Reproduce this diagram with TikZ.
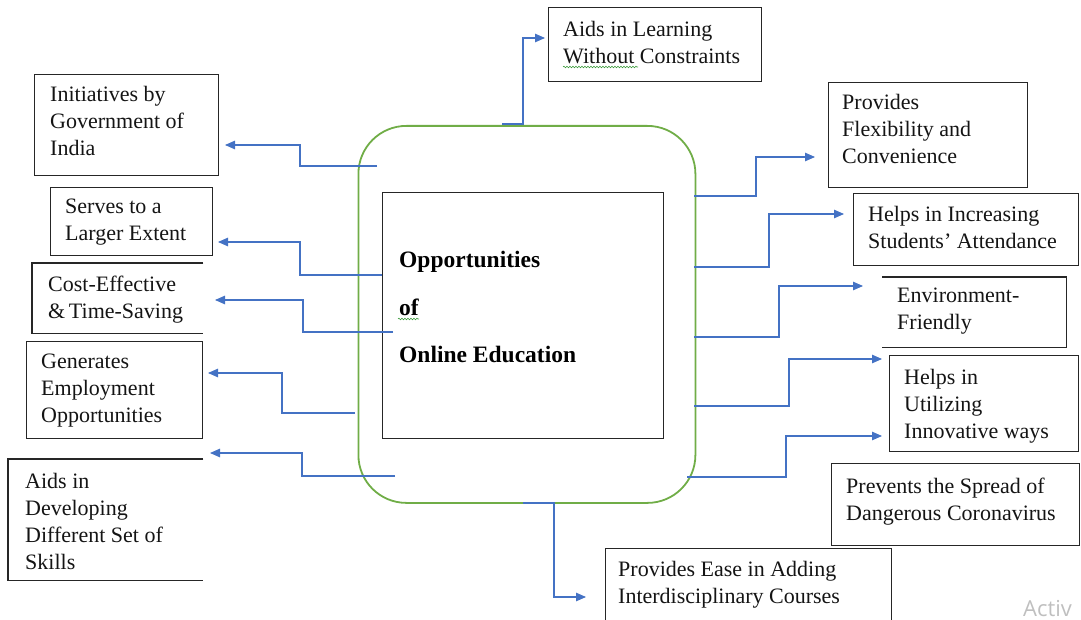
\documentclass[tikz,border=0pt]{standalone}
\usepackage{fontspec}
\setmainfont{Liberation Serif}
\newfontfamily\wmfont{Open Sans}
\usetikzlibrary{arrows.meta,calc,decorations.pathmorphing}
\definecolor{conblue}{HTML}{4472C4}
\definecolor{hubgreen}{HTML}{70AD47}
\definecolor{boxline}{HTML}{262626}
\definecolor{squiggle}{HTML}{3C9A3C}
\begin{document}
\begin{tikzpicture}[x=1pt,y=-1pt,
  conn/.style={draw=conblue, line width=1.1pt, -{Triangle[length=10pt,width=8.5pt]}},
  txt/.style={anchor=north west, inner sep=0pt, align=left, font=\fontsize{22}{27}\selectfont, text=black!92},
  boxframe/.style={draw=boxline, line width=1.2pt, anchor=north west, inner sep=0pt},
  openframe/.style={anchor=north west, inner sep=0pt},
  openline/.style={draw=boxline, line width=1.2pt},
  wavy/.style={draw=squiggle, line width=0.6pt, decorate, decoration={snake, amplitude=0.8pt, segment length=3pt}}
]
\useasboundingbox (0,0) rectangle (1081,620);
\clip (0,0) rectangle (1081,620);

% central hub
\node[draw=hubgreen, line width=1.8pt, rounded corners=48pt, minimum width=337pt, minimum height=377pt, anchor=north west, inner sep=0pt] (hub) at (357.5,125) {};
\node[boxframe, minimum width=281pt, minimum height=246pt] (inner) at (382,192) {};
\node[anchor=north west, inner sep=0pt, align=left, font=\bfseries\fontsize{23.5}{47.5}\selectfont] (title) at (399,251) {Opportunities\\of\\Online Education};
\draw[wavy] (398,319) -- (419,319);

% left boxes
\node[boxframe, minimum width=184pt, minimum height=101pt] (b1) at (34,74) {};
\node[txt] (t1) at (50,86) {Initiatives by\\Government of\\India};
\node[boxframe, minimum width=162pt, minimum height=68pt] (b2) at (50,187) {};
\node[txt] (t2) at (65,199) {Serves to a\\Larger Extent};
\node[openframe, minimum width=171pt, minimum height=70pt] (b3) at (32,263) {};
\draw[openline] (b3.north east) -- (b3.north west) -- (b3.south west) -- (b3.south east);
\node[txt] (t3) at (48,276) {Cost-Effective\\\&\,Time-Saving};
\node[boxframe, minimum width=176pt, minimum height=97pt] (b4) at (26,341) {};
\node[txt] (t4) at (41,354) {Generates\\Employment\\Opportunities};
\node[openframe, minimum width=195pt, minimum height=121pt] (b5) at (8,459) {};
\draw[openline] (b5.north east) -- (b5.north west) -- (b5.south west) -- (b5.south east);
\node[txt] (t5) at (25,473) {Aids in\\Developing\\Different Set of\\Skills};

% top box
\node[boxframe, minimum width=213pt, minimum height=74pt] (bT) at (548,7) {};
\node[txt] (tT) at (563,21) {Aids in Learning\\Without Constraints};
\draw[wavy] (563,67) -- (638,67);

% right boxes
\node[boxframe, minimum width=199pt, minimum height=105pt] (r1) at (828,82) {};
\node[txt] (rt1) at (842,94) {Provides\\Flexibility and\\Convenience};
\node[boxframe, minimum width=225pt, minimum height=72pt] (r2) at (853,193) {};
\node[txt] (rt2) at (868,206) {Helps in Increasing\\Students’ Attendance};
\node[openframe, minimum width=184pt, minimum height=70pt] (r3) at (882,277) {};
\draw[openline] (r3.north west) -- (r3.north east) -- (r3.south east) -- (r3.south west);
\node[txt] (rt3) at (897,288) {Environment-\\Friendly};
\node[boxframe, minimum width=189pt, minimum height=96pt] (r4) at (889,355) {};
\node[txt] (rt4) at (904,369) {Helps in\\Utilizing\\Innovative ways};
\node[boxframe, minimum width=248pt, minimum height=82pt] (r5) at (831,463) {};
\node[txt] (rt5) at (846,478) {Prevents the Spread of\\Dangerous Coronavirus};

% bottom box
\node[boxframe, minimum width=286pt, minimum height=90pt] (bB) at (605,548) {};
\node[txt] (tB) at (618,561) {Provides Ease in Adding\\Interdisciplinary Courses};

% connector ends
\coordinate (sL1) at (377,166);  \coordinate (eL1) at (225,145);
\coordinate (sL2) at (382,275);  \coordinate (eL2) at (218,242);
\coordinate (sL3) at (393,332);  \coordinate (eL3) at (215,300);
\coordinate (sL4) at (355,413);  \coordinate (eL4) at (208,373);
\coordinate (sL5) at (395,476);  \coordinate (eL5) at (210,453);
\coordinate (sT)  at (502,124);  \coordinate (eT)  at (545,38);
\coordinate (sR1) at (694,196);  \coordinate (eR1) at (815,157);
\coordinate (sR2) at (694,267);  \coordinate (eR2) at (844,214);
\coordinate (sR3) at (694,337);  \coordinate (eR3) at (863,286);
\coordinate (sR4) at (694,406);  \coordinate (eR4) at (882,359);
\coordinate (sR5) at (687,477);  \coordinate (eR5) at (882,436);
\coordinate (sB)  at (523,503);  \coordinate (eB)  at (586,597);

% connectors
\draw[conn] (sL1) -| ($(eL1)+(75,0)$) -- (eL1);
\draw[conn] (sL2) -| ($(eL2)+(82,0)$) -- (eL2);
\draw[conn] (sL3) -| ($(eL3)+(88,0)$) -- (eL3);
\draw[conn] (sL4) -| ($(eL4)+(74,0)$) -- (eL4);
\draw[conn] (sL5) -| ($(eL5)+(92,0)$) -- (eL5);
\draw[conn] (sT) -| ($(eT)+(-22,0)$) -- (eT);
\draw[conn] (sR1) -| ($(eR1)+(-59,0)$) -- (eR1);
\draw[conn] (sR2) -| ($(eR2)+(-75,0)$) -- (eR2);
\draw[conn] (sR3) -| ($(eR3)+(-84,0)$) -- (eR3);
\draw[conn] (sR4) -| ($(eR4)+(-93,0)$) -- (eR4);
\draw[conn] (sR5) -| ($(eR5)+(-96,0)$) -- (eR5);
\draw[conn] (sB) -| ($(eB)+(-32,0)$) -- (eB);

% watermark
\node[anchor=base west, inner sep=0pt, text=black!25, font=\wmfont\fontsize{22}{26}\selectfont] (wm) at (1023,616) {Activ};
\end{tikzpicture}
\end{document}
